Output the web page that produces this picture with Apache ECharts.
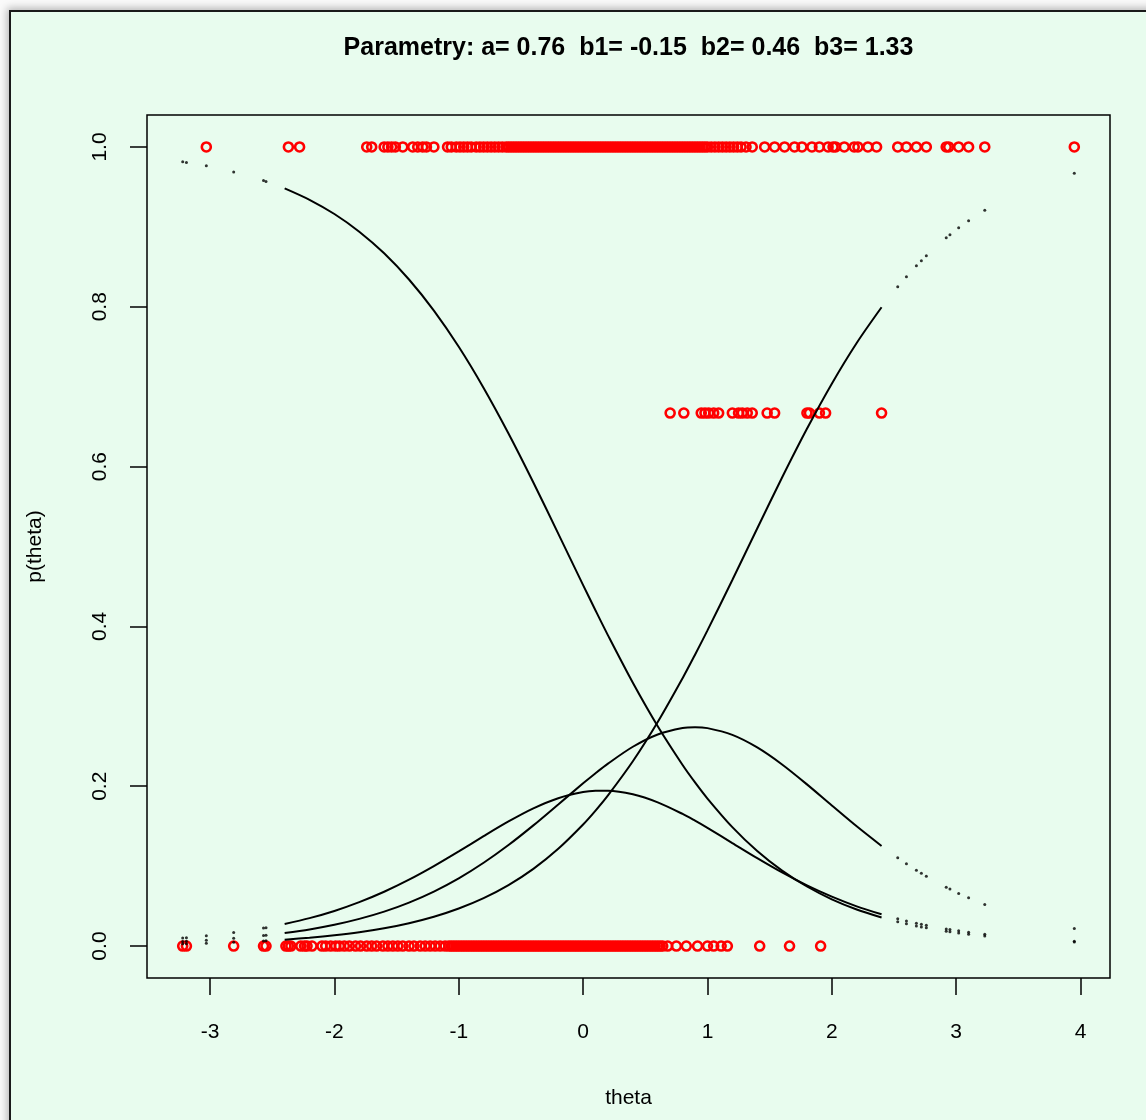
<!DOCTYPE html>
<html><head><meta charset="utf-8">
<script src="https://cdn.jsdelivr.net/npm/echarts@6/dist/echarts.min.js"></script>
<style>
html,body{margin:0;padding:0;width:1146px;height:1120px;overflow:hidden;background:#fafafa;}
#frame{position:absolute;left:9px;top:10px;width:1200px;height:1200px;border:2.5px solid #1a1a1a;background:#E8FCEE;box-shadow:-2px -2px 8px rgba(0,0,0,0.28);}
#chart{position:absolute;left:0;top:0;width:1146px;height:1120px;}
</style></head><body>
<div id="frame"></div><div id="chart"></div>
<script>
// ---- labels ----
const titleText = 'Parametry: a= 0.76  b1= -0.15  b2= 0.46  b3= 1.33';
const xName = 'theta';
const yName = 'p(theta)';
const xTicks = [-3, -2, -1, 0, 1, 2, 3, 4];
const yTicks = [0, 0.2, 0.4, 0.6, 0.8, 1.0];

// ---- category curves, dense part ----
const thetaGrid = [-2.4,-2.2,-2.0,-1.8,-1.6,-1.4,-1.2,-1.0,-0.8,-0.6,-0.4,-0.2,0,0.1,0.2,0.4,0.6,0.8,0.9,1.0,1.2,1.4,1.6,1.8,2.0,2.2,2.4];
const p0 = [0.9482,0.9339,0.9161,0.8940,0.8669,0.8341,0.7952,0.7499,0.6984,0.6414,0.5801,0.5161,0.4517,0.4199,0.3888,0.3295,0.2751,0.2266,0.2048,0.1846,0.1488,0.1189,0.0944,0.0745,0.0585,0.0458,0.0358];
const p1 = [0.0276,0.0349,0.0439,0.0549,0.0679,0.0830,0.1000,0.1184,0.1375,0.1559,0.1723,0.1850,0.1927,0.1943,0.1944,0.1899,0.1798,0.1653,0.1568,0.1478,0.1289,0.1100,0.0921,0.0759,0.0618,0.0497,0.0397];
const p2 = [0.0162,0.0208,0.0266,0.0340,0.0431,0.0544,0.0682,0.0847,0.1042,0.1264,0.1510,0.1772,0.2036,0.2163,0.2283,0.2494,0.2648,0.2729,0.2739,0.2727,0.2642,0.2485,0.2272,0.2023,0.1759,0.1498,0.1252];
const p3 = [0.0080,0.0104,0.0134,0.0172,0.0222,0.0286,0.0367,0.0470,0.0600,0.0763,0.0966,0.1217,0.1521,0.1695,0.1885,0.2312,0.2803,0.3352,0.3646,0.3950,0.4581,0.5226,0.5863,0.6473,0.7038,0.7547,0.7994];

// ---- sparse tail points of the curves ----
const tailTheta = [-3.22,-3.19,-3.03,-2.81,-2.57,-2.55,2.53,2.60,2.68,2.72,2.76,2.92,2.95,3.02,3.10,3.23,3.95];
const tail0 = [0.9814,0.9807,0.9764,0.9688,0.9580,0.9569,0.0304,0.0278,0.0252,0.0239,0.0228,0.0186,0.0179,0.0164,0.0148,0.0125,0.0050];
const tail1 = [0.0101,0.0104,0.0128,0.0168,0.0225,0.0230,0.0341,0.0314,0.0286,0.0272,0.0260,0.0214,0.0206,0.0190,0.0172,0.0146,0.0059];
const tail2 = [0.0058,0.0060,0.0073,0.0097,0.0131,0.0135,0.1105,0.1031,0.0950,0.0912,0.0874,0.0736,0.0713,0.0659,0.0603,0.0519,0.0219];
const tail3 = [0.0028,0.0029,0.0036,0.0047,0.0064,0.0066,0.8250,0.8377,0.8512,0.8576,0.8638,0.8864,0.8902,0.8988,0.9078,0.9209,0.9672];

// ---- observed scores (red circles) ----
const obsLevels = [0, 0.667, 1];
const obsTheta0 = [-3.22,-3.19,-2.81,-2.57,-2.55,-2.39,-2.37,-2.35,-2.27,-2.24,-2.22,-2.18,
 -2.10,-2.07,-2.03,-1.99,-1.96,-1.92,-1.88,-1.83,-1.79,-1.74,-1.70,-1.66,-1.61,-1.57,-1.53,-1.49,-1.45,-1.40,-1.36,-1.31,-1.27,-1.23,-1.19,-1.15,-1.11,
 -1.08,-1.06,-1.04,-1.02,-1.00,-0.98,-0.96,-0.94,-0.92,-0.90,-0.88,-0.86,-0.84,-0.82,-0.80,-0.78,-0.76,-0.74,-0.72,-0.70,-0.68,-0.66,-0.64,-0.62,-0.60,-0.58,-0.56,-0.54,-0.52,-0.50,-0.48,-0.46,-0.44,-0.42,-0.40,-0.38,-0.36,-0.34,-0.32,-0.30,-0.28,-0.26,-0.24,-0.22,-0.20,-0.18,-0.16,-0.14,-0.12,-0.10,-0.08,-0.06,-0.04,-0.02,0.00,0.02,0.04,0.06,0.08,0.10,0.12,0.14,0.16,0.18,0.20,0.22,0.24,0.26,0.28,0.30,0.32,0.34,0.36,0.38,0.40,0.42,0.44,0.46,0.48,0.50,0.52,0.54,0.56,0.58,0.60,0.62,0.64,
 0.68,0.75,0.83,0.92,1.00,1.05,1.11,1.16,1.42,1.66,1.91];
const obsThetaMid = [0.70,0.81,0.95,0.98,1.01,1.05,1.09,1.20,1.25,1.28,1.32,1.36,1.48,1.54,1.80,1.82,1.90,1.95,2.40];
const obsTheta1 = [-3.03,-2.37,-2.28,-1.74,-1.70,-1.60,-1.57,-1.54,-1.51,-1.45,-1.37,-1.33,-1.29,-1.26,-1.20,
 -1.09,-1.06,-1.02,-0.99,-0.96,-0.93,-0.90,-0.86,-0.83,-0.80,-0.77,-0.74,-0.71,-0.68,-0.65,-0.62,
 -0.60,-0.58,-0.56,-0.54,-0.52,-0.50,-0.48,-0.46,-0.44,-0.42,-0.40,-0.38,-0.36,-0.34,-0.32,-0.30,-0.28,-0.26,-0.24,-0.22,-0.20,-0.18,-0.16,-0.14,-0.12,-0.10,-0.08,-0.06,-0.04,-0.02,0.00,0.02,0.04,0.06,0.08,0.10,0.12,0.14,0.16,0.18,0.20,0.22,0.24,0.26,0.28,0.30,0.32,0.34,0.36,0.38,0.40,0.42,0.44,0.46,0.48,0.50,0.52,0.54,0.56,0.58,0.60,0.62,0.64,0.66,0.68,0.70,0.72,0.74,0.76,0.78,0.80,0.82,0.84,0.86,0.88,0.90,0.92,0.94,0.96,0.98,1.00,
 1.03,1.06,1.09,1.12,1.15,1.18,1.21,1.24,1.27,1.31,
 1.36,1.46,1.54,1.62,1.70,1.76,1.84,1.90,1.97,2.01,2.03,2.10,2.18,2.21,2.29,2.36,2.53,2.60,2.68,2.76,2.92,2.94,3.02,3.10,3.23,3.95];

const FONT = '"Liberation Sans", Arial, Helvetica, sans-serif';

const series = [];
[[obsTheta0, obsLevels[0]], [obsThetaMid, obsLevels[1]], [obsTheta1, obsLevels[2]]].forEach(([arr, lvl]) => {
  series.push({
    type: 'scatter', data: arr.map(t => [t, lvl]), symbol: 'circle', symbolSize: 9,
    itemStyle: { color: 'rgba(255,0,0,0)', borderColor: '#ff0000', borderWidth: 2.6, opacity: 1 },
    z: 2, silent: true
  });
});
[p0, p1, p2, p3].forEach(arr => {
  series.push({
    type: 'line', data: thetaGrid.map((t, j) => [t, arr[j]]), showSymbol: false, smooth: 0.3,
    lineStyle: { color: '#000', width: 2 }, z: 4, silent: true
  });
});
[tail0, tail1, tail2, tail3].forEach(arr => {
  series.push({
    type: 'scatter', data: tailTheta.map((t, j) => [t, arr[j]]), symbol: 'circle', symbolSize: 3,
    itemStyle: { color: '#000' }, z: 4, silent: true
  });
});

const chart = echarts.init(document.getElementById('chart'), null, { renderer: 'canvas' });
chart.setOption({
  backgroundColor: 'transparent',
  animation: false,
  textStyle: { fontFamily: FONT },
  grid: { left: 147, right: 36, top: 115, bottom: 142, show: true, borderColor: '#000', borderWidth: 1.5, backgroundColor: 'transparent' },
  xAxis: {
    type: 'value', min: -3.507, max: 4.237,
    axisLine: { show: false, onZero: false },
    splitLine: { show: false },
    axisTick: { show: true, length: 17, lineStyle: { color: '#000', width: 1.5 }, customValues: xTicks },
    axisLabel: { customValues: xTicks, fontSize: 21, color: '#000', margin: 44, fontFamily: FONT }
  },
  yAxis: {
    type: 'value', min: -0.04, max: 1.04,
    axisLine: { show: false, onZero: false },
    splitLine: { show: false },
    axisTick: { show: true, length: 17, lineStyle: { color: '#000', width: 1.5 }, customValues: yTicks },
    axisLabel: { customValues: yTicks, fontSize: 21, color: '#000', margin: 36, rotate: 90, fontFamily: FONT,
      formatter: v => Number(v).toFixed(1) }
  },
  graphic: [
    { type: 'text', x: 628.5, y: 48, style: { text: titleText, font: 'bold 25px ' + FONT, fill: '#000', textAlign: 'center', textVerticalAlign: 'middle', align: 'center', verticalAlign: 'middle' } },
    { type: 'text', x: 628.5, y: 1098, style: { text: xName, font: '21px ' + FONT, fill: '#000', textAlign: 'center', textVerticalAlign: 'middle', align: 'center', verticalAlign: 'middle' } },
    { type: 'text', x: 35, y: 546.5, rotation: Math.PI / 2, style: { text: yName, font: '21px ' + FONT, fill: '#000', textAlign: 'center', textVerticalAlign: 'middle', align: 'center', verticalAlign: 'middle' } }
  ],
  series: series
});
</script></body></html>
